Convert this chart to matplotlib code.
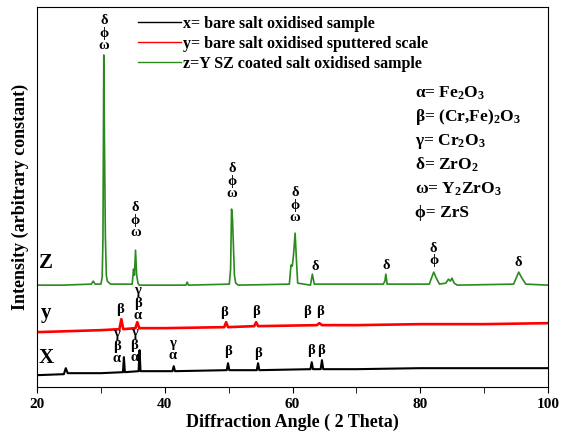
import matplotlib
matplotlib.use("Agg")
import matplotlib.pyplot as plt
from matplotlib.ticker import MultipleLocator

plt.rcParams['font.family'] = ['Liberation Serif', 'DejaVu Serif']
plt.rcParams['font.weight'] = 'bold'
plt.rcParams['mathtext.default'] = 'regular'

# --- data (2theta, intensity in arbitrary units) ---
z_x = [20, 24, 28.5, 28.8, 29.1, 30.0, 30.2, 30.32, 30.45, 30.55, 30.7, 30.85, 31.0, 31.5, 34.9, 35.1, 35.25, 35.42, 35.6, 35.8, 36.0,
       43.3, 43.5, 43.7, 50.1, 50.3, 50.45, 50.6, 50.75, 50.9, 51.1, 51.5, 59.5, 59.75, 59.95, 60.15, 60.4, 60.6, 60.8, 62.8, 63.1,
       63.4, 74.2, 74.45, 74.6, 74.8, 81.4, 81.8, 82.1, 82.5, 83.0, 84.0, 84.4, 84.7, 84.95, 85.3, 85.8, 94.6, 95.0, 95.4, 95.9, 96.5, 100]
z_y = [102, 102, 103, 106, 103, 103, 110, 148, 332, 250, 150, 112, 106, 103, 103, 118, 112, 137, 112, 104, 102,
       102, 105, 102, 103, 118, 178, 168, 140, 112, 104, 102, 103, 122, 121, 132, 154, 128, 104, 102, 113,
       103, 103, 106, 113, 103, 103, 110, 115, 109, 103, 104, 108, 106, 109, 104, 102, 103, 109, 115, 109, 103, 102]

y_x = [20, 25, 30, 32.9, 33.2, 33.5, 35.4, 35.7, 36.0, 40, 49.3, 49.6, 49.9, 54.0, 54.3, 54.6, 63.8, 64.2, 64.6, 70, 80, 90, 100]
y_y = [55, 56, 57, 58, 68, 58, 59, 65, 59, 59, 60, 65, 60, 61, 65, 61, 62, 64, 62, 62, 63, 63, 64]

x_x = [20, 24.2, 24.5, 24.8, 30, 33.45, 33.6, 33.75, 35.9, 36.05, 36.2, 41.2, 41.4, 41.6, 49.7, 49.9, 50.1, 54.4, 54.6, 54.8,
       62.8, 63.0, 63.2, 64.4, 64.6, 64.8, 70, 80, 90, 100]
x_y = [12, 13, 19, 14, 14, 15, 30, 15, 16, 37, 16, 16, 21, 16, 17, 24, 17, 17, 24, 17,
       18, 25, 18, 18, 27, 18, 18, 19, 19, 19]

legend_labels = ["x= bare salt oxidised sample",
                 "y= bare salt oxidised sputtered scale",
                 "z=Y SZ coated salt oxidised sample"]

phase_key = [r"α= Fe$_2$O$_3$", r"β= (Cr,Fe)$_2$O$_3$", r"γ= Cr$_2$O$_3$",
             r"δ= ZrO$_2$", r"ω= Y$_2$ZrO$_3$", r"ϕ= ZrS"]

# peak annotations: (2theta, label-bottom intensity, stacked label)
z_ann = [(30.5, 335, "δ\nϕ\nω"), (35.4, 148, "δ\nϕ\nω"), (50.5, 187, "δ\nϕ\nω"), (60.4, 163, "δ\nϕ\nω"),
         (63.5, 114, "δ"), (74.7, 115, "δ"), (82.1, 120, "δ\nϕ"), (95.4, 118, "δ")]
y_ann = [(33.0, 71, "β"), (35.8, 65, "γ\nβ\nα"), (49.2, 68, "β"), (54.2, 69, "β"), (62.3, 69, "β"), (64.3, 69, "β")]
x_ann = [(32.5, 22, "γ\nβ\nα"), (35.2, 23, "γ\nβ\nα"), (41.2, 25, "γ\nα"), (49.9, 29, "β"), (54.6, 27, "β"),
         (62.9, 30, "β"), (64.5, 30, "β")]

series_tags = [(21.4, 124, "Z"), (21.4, 74, "y"), (21.4, 29, "X")]

fig = plt.figure(figsize=(5.61, 4.37), dpi=100)
ax = fig.add_axes([0.066, 0.114, 0.911, 0.870])

ax.plot(x_x, x_y, color='black', lw=1.5, label=legend_labels[0])
ax.plot(y_x, y_y, color='red', lw=1.9, label=legend_labels[1])
ax.plot(z_x, z_y, color='#2a8a1e', lw=1.2, label=legend_labels[2])

ax.set_xlim(20, 100)
ax.set_ylim(0, 380)
ax.set_yticks([])
ax.xaxis.set_major_locator(MultipleLocator(20))
ax.xaxis.set_minor_locator(MultipleLocator(10))
ax.tick_params(axis='x', which='both', direction='out', length=4, labelsize=11)
for lab in ax.get_xticklabels():
    lab.set_fontweight('bold')

ax.set_xlabel("Diffraction Angle ( 2 Theta)", fontsize=13, fontweight='bold', labelpad=2)
ax.set_ylabel("Intensity (arbitrary constant)", fontsize=13, fontweight='bold', labelpad=6)

leg = ax.legend(loc='upper left', bbox_to_anchor=(0.18, 1.0), frameon=False, fontsize=11.5,
                handlelength=2.7, handletextpad=0.1, labelspacing=0.25, borderaxespad=0.15)
for h in leg.get_lines():
    h.set_linewidth(1.0)

for i, t in enumerate(phase_key):
    ax.text(79.2, 294 - i * 24, t, fontsize=12.5, fontweight='bold', va='center', ha='left')

for anns in (z_ann, y_ann, x_ann):
    for xx, yy, t in anns:
        ax.text(xx, yy, t, fontsize=10.5, fontweight='bold', ha='center', va='bottom', linespacing=0.95)

for xx, yy, t in series_tags:
    ax.text(xx, yy, t, fontsize=15, fontweight='bold', ha='center', va='center')

fig.savefig("out.png", dpi=100)
